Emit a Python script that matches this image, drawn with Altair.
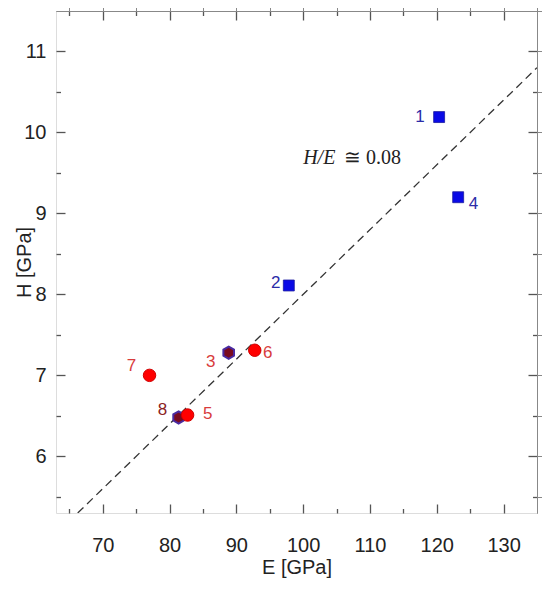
import altair as alt
import pandas as pd

# ---- data ----
sq_id = ["1", "2", "4"]
sq_E = [120.35, 97.85, 123.2]
sq_H = [10.19, 8.11, 9.20]

hex_id = ["3", "8"]
hex_E = [88.85, 81.35]
hex_H = [7.28, 6.48]

circ_id = ["6", "7", "5"]
circ_E = [92.75, 77.0, 82.7]
circ_H = [7.31, 7.00, 6.51]

lab_text = ["1", "2", "4", "3", "6", "7", "8", "5"]
lab_E = [117.5, 95.9, 125.5, 86.15, 94.7, 74.3, 78.95, 85.7]
lab_H = [10.19, 8.14, 9.12, 7.16, 7.27, 7.11, 6.57, 6.52]
lab_group = ["blue", "blue", "blue", "red", "red", "red", "darkred", "red"]

line_E = [66.25, 135.0]
line_H = [5.30, 10.80]

ann_text = ["H/E", "\u2245 0.08"]
ann_E = [100.0, 106.1]
ann_H = [9.69, 9.69]

x_major = [70, 80, 90, 100, 110, 120, 130]
x_minor = [65, 75, 85, 95, 105, 115, 125]
y_major = [6, 7, 8, 9, 10, 11]
y_minor = [5.5, 6.5, 7.5, 8.5, 9.5, 10.5]

X_DOMAIN = [63, 135]
Y_DOMAIN = [5.3, 11.5]
W, H = 481, 502

FONT = "Liberation Sans"
TICK_COLOR = "#555555"

sq_df = pd.DataFrame({"E": sq_E, "H": sq_H, "id": sq_id})
hex_df = pd.DataFrame({"E": hex_E, "H": hex_H, "id": hex_id})
circ_df = pd.DataFrame({"E": circ_E, "H": circ_H, "id": circ_id})
lab_df = pd.DataFrame({"E": lab_E, "H": lab_H, "t": lab_text, "g": lab_group})
line_df = pd.DataFrame({"E": line_E, "H": line_H})
ann_df = pd.DataFrame({"E": ann_E, "H": ann_H, "t": ann_text})

xs = alt.Scale(domain=X_DOMAIN, nice=False, zero=False)
ys = alt.Scale(domain=Y_DOMAIN, nice=False, zero=False)

# main axes: labels + titles only
x_main = alt.Axis(values=x_major, ticks=False, tickSize=0, domain=False, grid=False,
                  labelFont=FONT, labelFontSize=20, labelColor="#222222", labelPadding=22,
                  title="E [GPa]", titleFont=FONT, titleFontSize=20, titleFontWeight="normal",
                  titleColor="#222222", titleY=44, titleBaseline="top")
y_main = alt.Axis(values=y_major, ticks=False, tickSize=0, domain=False, grid=False,
                  labelFont=FONT, labelFontSize=20, labelColor="#222222", labelPadding=10,
                  title="H [GPa]", titleFont=FONT, titleFontSize=20, titleFontWeight="normal",
                  titleColor="#222222", titleX=-26, titleY=H / 2,
                  titleBaseline="alphabetic", titleAngle=270)


def tick_axis(vals, orient, offset, size):
    # inward-pointing ticks: an axis of the opposite side moved across the plot
    return alt.Axis(values=vals, orient=orient, offset=offset, labels=False, domain=False,
                    grid=False, ticks=True, tickSize=size, tickColor=TICK_COLOR,
                    tickWidth=1.3, title=None)


line = alt.Chart(line_df).mark_line(color="#333333", strokeWidth=1.3,
                                    strokeDash=[8, 5], clip=True).encode(
    x=alt.X("E:Q", scale=xs, axis=x_main),
    y=alt.Y("H:Q", scale=ys, axis=y_main),
)

squares = alt.Chart(sq_df).mark_point(shape="square", filled=True, size=120,
                                      color="#0a0ae6", stroke="#1a1aa0",
                                      strokeWidth=0.8, opacity=1).encode(
    x=alt.X("E:Q", scale=xs, axis=tick_axis(x_major, "top", -H, 9)),
    y=alt.Y("H:Q", scale=ys, axis=tick_axis(y_major, "right", -W, 9)),
)

hex_path = "M0,-1L0.866,-0.5L0.866,0.5L0,1L-0.866,0.5L-0.866,-0.5Z"
hexes = alt.Chart(hex_df).mark_point(shape=hex_path, filled=True, size=150,
                                     fill="#7a0a1e", stroke="#4a2aa0",
                                     strokeWidth=2, opacity=1).encode(
    x=alt.X("E:Q", scale=xs, axis=tick_axis(x_minor, "top", -H, 4.5)),
    y=alt.Y("H:Q", scale=ys, axis=tick_axis(y_minor, "right", -W, 4.5)),
)

circles = alt.Chart(circ_df).mark_point(shape="circle", filled=True, size=155,
                                        fill="#ff0000", stroke="#d00000",
                                        strokeWidth=1, opacity=1).encode(
    x=alt.X("E:Q", scale=xs, axis=tick_axis(x_major, "bottom", -H, 9)),
    y=alt.Y("H:Q", scale=ys, axis=tick_axis(y_major, "left", -W, 9)),
)

labels = alt.Chart(lab_df).mark_text(font=FONT, fontSize=17, align="center",
                                     baseline="middle").encode(
    x=alt.X("E:Q", scale=xs, axis=tick_axis(x_minor, "bottom", -H, 4.5)),
    y=alt.Y("H:Q", scale=ys, axis=tick_axis(y_minor, "left", -W, 4.5)),
    text="t:N",
    color=alt.Color("g:N", scale=alt.Scale(domain=["blue", "red", "darkred"],
                                           range=["#2b2ba8", "#d83c3c", "#8b2222"]),
                    legend=None),
)

ann1 = alt.Chart(ann_df.iloc[[0]]).mark_text(font="Liberation Serif", fontSize=20,
                                             fontStyle="italic", align="left",
                                             baseline="middle", color="#222222").encode(
    x=alt.X("E:Q", scale=xs), y=alt.Y("H:Q", scale=ys), text="t:N")
ann2 = alt.Chart(ann_df.iloc[[1]]).mark_text(font="Liberation Serif", fontSize=20,
                                             align="left", baseline="middle",
                                             color="#222222").encode(
    x=alt.X("E:Q", scale=xs), y=alt.Y("H:Q", scale=ys), text="t:N")

chart = alt.layer(line, squares, hexes, circles, labels, ann1, ann2).resolve_axis(
    x="independent", y="independent"
).properties(
    width=W, height=H,
    autosize=alt.AutoSizeParams(type="none"),
    padding={"left": 48, "top": 3, "right": 5, "bottom": 80},
).configure_view(stroke=TICK_COLOR, strokeWidth=1.3).configure(background="white")

chart.save("out.html", embed_options={"renderer": "svg", "actions": False})
